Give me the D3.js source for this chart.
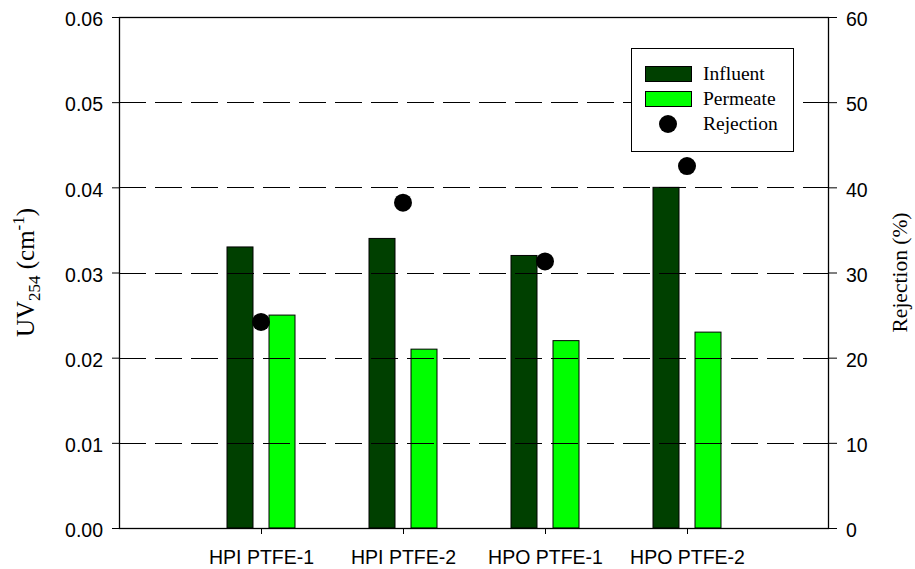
<!DOCTYPE html>
<html>
<head>
<meta charset="utf-8">
<script src="https://cdn.jsdelivr.net/npm/d3@7"></script>
<style>
  html, body { margin: 0; padding: 0; background: #fff; }
  svg { display: block; }
</style>
</head>
<body>
<svg id="chart" width="915" height="569"></svg>
<script>
// Samples and measured values
const categories = ["HPI PTFE-1", "HPI PTFE-2", "HPO PTFE-1", "HPO PTFE-2"];
const influent = [0.033, 0.034, 0.032, 0.040];
const permeate = [0.025, 0.021, 0.022, 0.023];
const rejection = [24.2, 38.2, 31.3, 42.5];
const uvTicks = [0, 0.01, 0.02, 0.03, 0.04, 0.05, 0.06];
const rejTicks = [0, 10, 20, 30, 40, 50, 60];
const gridTicks = [0.01, 0.02, 0.03, 0.04, 0.05];

const W = 915, H = 569;
const m = { left: 119, right: 829, top: 17, bottom: 528 };

const svg = d3.select("#chart");

const x = d3.scaleLinear().domain([0, categories.length + 1]).range([m.left, m.right]);
const yL = d3.scaleLinear().domain([0, 0.06]).range([m.bottom, m.top]);
const yR = d3.scaleLinear().domain([0, 60]).range([m.bottom, m.top]);

const barW = 26, barOff = 21;
const sans = "'Liberation Sans', Arial, sans-serif";
const serif = "'Liberation Serif', 'Times New Roman', serif";

// Bars
const g = svg.append("g");
g.selectAll("rect.inf").data(influent).enter().append("rect")
  .attr("class", "inf")
  .attr("x", (d, i) => x(i + 1) - barOff - barW / 2)
  .attr("y", d => yL(d))
  .attr("width", barW)
  .attr("height", d => yL(0) - yL(d))
  .attr("fill", "#004000").attr("stroke", "#000").attr("stroke-width", 1);

g.selectAll("rect.perm").data(permeate).enter().append("rect")
  .attr("class", "perm")
  .attr("x", (d, i) => x(i + 1) + barOff - barW / 2)
  .attr("y", d => yL(d))
  .attr("width", barW)
  .attr("height", d => yL(0) - yL(d))
  .attr("fill", "#00ff00").attr("stroke", "#000").attr("stroke-width", 1);

// Dashed reference lines
svg.append("g").selectAll("line").data(gridTicks).enter().append("line")
  .attr("x1", m.left).attr("x2", m.right)
  .attr("y1", d => Math.round(yL(d)) + 0.5).attr("y2", d => Math.round(yL(d)) + 0.5)
  .attr("stroke", "#000").attr("stroke-width", 1)
  .attr("stroke-dasharray", "27,9");

// Rejection points
svg.append("g").selectAll("circle").data(rejection).enter().append("circle")
  .attr("cx", (d, i) => x(i + 1))
  .attr("cy", d => yR(d))
  .attr("r", 9)
  .attr("fill", "#000");

// Axes
const axL = svg.append("g").attr("transform", `translate(${m.left},0)`)
  .call(d3.axisLeft(yL).tickValues(uvTicks).tickFormat(d3.format(".2f")).tickSize(7).tickPadding(9));
const axR = svg.append("g").attr("transform", `translate(${m.right},0)`)
  .call(d3.axisRight(yR).tickValues(rejTicks).tickFormat(d3.format("d")).tickSize(8).tickPadding(9));
const axB = svg.append("g").attr("transform", `translate(0,${m.bottom})`)
  .call(d3.axisBottom(x).tickValues(d3.range(1, categories.length + 1))
    .tickFormat(i => categories[i - 1]).tickSize(6).tickPadding(16));

[axL, axR, axB].forEach(a => {
  a.select(".domain").remove();
  a.selectAll("line").attr("stroke", "#000").attr("stroke-width", 1);
  a.selectAll("text").attr("font-family", sans).attr("font-size", "19.5px").attr("fill", "#000");
});
axL.selectAll("text").attr("dy", "0.45em");
axR.selectAll("text").attr("dy", "0.45em");

// Frame
svg.append("rect")
  .attr("x", m.left + 0.5).attr("y", m.top + 0.5)
  .attr("width", m.right - m.left - 1).attr("height", m.bottom - m.top)
  .attr("fill", "none").attr("stroke", "#000").attr("stroke-width", 1.3);

// Legend
const lg = svg.append("g").attr("transform", "translate(631,48)");
lg.append("rect").attr("x", 0.5).attr("y", 0.5).attr("width", 162).attr("height", 103)
  .attr("fill", "#fff").attr("stroke", "#000").attr("stroke-width", 1);
const items = [
  { label: "Influent", type: "bar", color: "#004000" },
  { label: "Permeate", type: "bar", color: "#00ff00" },
  { label: "Rejection", type: "dot", color: "#000" }
];
items.forEach((it, i) => {
  const cy = 26 + i * 25;
  if (it.type === "bar") {
    lg.append("rect").attr("x", 14.5).attr("y", cy - 7.5).attr("width", 46).attr("height", 15)
      .attr("fill", it.color).attr("stroke", "#000").attr("stroke-width", 1);
  } else {
    lg.append("circle").attr("cx", 37).attr("cy", cy).attr("r", 9).attr("fill", it.color);
  }
  lg.append("text").attr("x", 72).attr("y", cy + 6)
    .attr("font-family", serif).attr("font-size", "19.5px").attr("fill", "#000")
    .text(it.label);
});

// Axis titles
const tl = svg.append("text")
  .attr("transform", `translate(34,${(m.top + m.bottom) / 2}) rotate(-90)`)
  .attr("text-anchor", "middle")
  .attr("font-family", serif).attr("font-size", "25px").attr("fill", "#000");
tl.append("tspan").text("UV");
tl.append("tspan").attr("font-size", "17px").attr("dy", 6).text("254");
tl.append("tspan").attr("dy", -6).text(" (cm");
tl.append("tspan").attr("font-size", "17px").attr("dy", -10).text("-1");
tl.append("tspan").attr("dy", 10).text(")");

svg.append("text")
  .attr("transform", `translate(907,${(m.top + m.bottom) / 2}) rotate(-90)`)
  .attr("text-anchor", "middle")
  .attr("font-family", serif).attr("font-size", "21.5px").attr("fill", "#000")
  .text("Rejection (%)");
</script>
</body>
</html>
